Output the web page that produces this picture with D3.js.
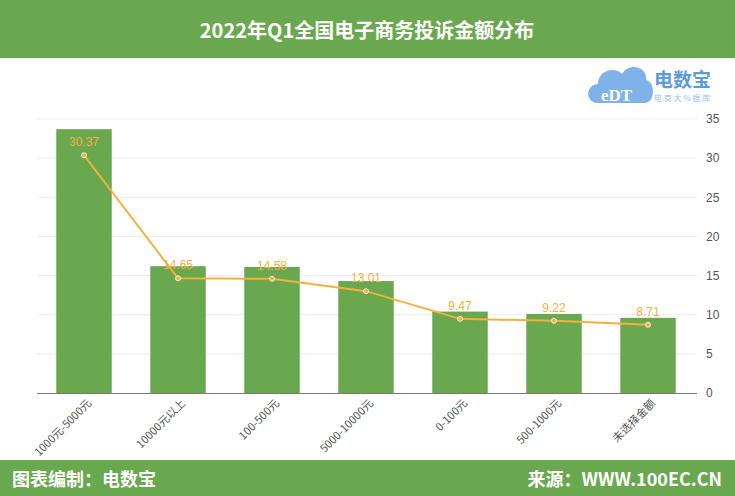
<!DOCTYPE html>
<html><head><meta charset="utf-8">
<script src="https://cdn.jsdelivr.net/npm/d3@7"></script>
<style>body{margin:0;background:#fff;font-family:"Noto Sans CJK SC","Microsoft YaHei",sans-serif}</style>
</head><body><svg id="c" width="735" height="496"></svg>
<script>
const categories=["1000元-5000元","10000元以上","100-500元","5000-10000元","0-100元","500-1000元","未选择金额"];
const barValues=[33.7,16.2,16.1,14.3,10.4,10.1,9.6];
const lineValues=[30.37,14.65,14.58,13.01,9.47,9.22,8.71];
const yTicks=[0,5,10,15,20,25,30,35];
const green="#6aa84f", orange="#f6b03b";
const svg=d3.select("#c");
svg.append("rect").attr("width",735).attr("height",58).attr("fill",green);
svg.append("text").attr("x",367).attr("y",38).attr("text-anchor","middle").attr("fill","#fff").attr("font-size",20).attr("font-weight","bold").text("2022年Q1全国电子商务投诉金额分布");
svg.append("rect").attr("y",460).attr("width",735).attr("height",36).attr("fill",green);
svg.append("text").attr("x",12).attr("y",486).attr("fill","#fff").attr("font-size",18).attr("font-weight","bold").text("图表编制：电数宝");
svg.append("text").attr("x",722).attr("y",486).attr("text-anchor","end").attr("fill","#fff").attr("font-size",18).attr("font-weight","bold").text("来源：WWW.100EC.CN");
const lg=svg.append("g");
lg.append("path").attr("d","M598,103 C585,103 585,85 598,84 C598,70 615,66 622,74 C628,62 648,66 646,80 C656,82 655,103 645,103 Z").attr("fill","#7fb2e8");
lg.append("text").attr("x",601).attr("y",101).attr("fill","#fff").attr("font-size",17).attr("font-family","Liberation Serif").attr("font-weight","bold").text("eDT");
lg.append("text").attr("x",654).attr("y",87).attr("fill","#5b9bd9").attr("font-size",19).attr("font-weight","bold").text("电数宝");
lg.append("text").attr("x",654).attr("y",101).attr("fill","#9ac0e8").attr("font-size",8).text("电 商 大 % 据 库");
const x=d3.scaleBand().domain(categories).range([37,695]).paddingInner(0.41).paddingOuter(0.205);
const y=d3.scaleLinear().domain([0,35]).range([393,119]);
const g=svg.append("g");
yTicks.slice(1).forEach(t=>g.append("line").attr("x1",37).attr("x2",697).attr("y1",y(t)).attr("y2",y(t)).attr("stroke","#ececec"));
const ya=svg.append("g").attr("transform","translate(697,0)").call(d3.axisRight(y).tickValues(yTicks).tickSize(0).tickPadding(9));
ya.select(".domain").remove();
ya.selectAll("text").attr("fill","#555").attr("font-size",12).attr("font-family","Liberation Sans");
g.selectAll(".bar").data(barValues).join("rect").attr("x",(d,i)=>x(categories[i])).attr("width",x.bandwidth()).attr("y",d=>y(d)).attr("height",d=>y(0)-y(d)).attr("fill",green);
g.append("line").attr("x1",37).attr("x2",697).attr("y1",393.5).attr("y2",393.5).attr("stroke","#777");
const cx=i=>x(categories[i])+x.bandwidth()/2;
g.append("path").attr("d",d3.line().x((d,i)=>cx(i)).y(d=>y(d))(lineValues)).attr("fill","none").attr("stroke",orange).attr("stroke-width",2);
g.selectAll(".pt").data(lineValues).join("circle").attr("cx",(d,i)=>cx(i)).attr("cy",d=>y(d)).attr("r",2.5).attr("fill",orange).attr("stroke","#fff").attr("stroke-width",0.8);
g.selectAll(".lb").data(lineValues).join("text").attr("x",(d,i)=>cx(i)).attr("y",d=>y(d)-9).attr("text-anchor","middle").attr("fill",orange).attr("font-size",12).attr("font-family","Liberation Sans").text(d=>d.toFixed(2));
g.selectAll(".xl").data(categories).join("text").attr("transform",(d,i)=>`translate(${cx(i)+8},${404}) rotate(-45)`).attr("text-anchor","end").attr("fill","#555").attr("font-size",11).text(d=>d);
</script></body></html>
